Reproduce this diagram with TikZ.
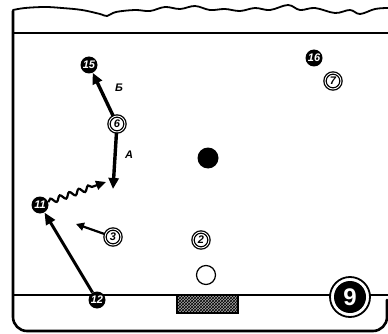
\documentclass[tikz,border=0pt]{standalone}
\usepackage{fontspec}
\setmainfont{Liberation Sans}
\usetikzlibrary{arrows.meta,decorations.pathmorphing,patterns}
\begin{document}
\begin{tikzpicture}[x=1pt,y=-1pt,
  blk/.style={circle,fill=black,inner sep=0pt,minimum size=17pt,text=white,font=\bfseries\itshape\fontsize{11}{11}\selectfont},
  wht/.style={circle,draw,double,double distance=0.9pt,line width=1.3pt,fill=white,inner sep=0pt,minimum size=16pt,font=\bfseries\itshape\fontsize{11}{11}\selectfont},
  lab/.style={font=\bfseries\itshape\fontsize{11}{11}\selectfont},
  mv/.style={line width=3.4pt,-{Triangle[length=11pt,width=10pt]}},
  frame/.style={line width=2.6pt,line cap=round,line join=round}]
\useasboundingbox (0,0) rectangle (388,334);
% frame
\draw[frame,rounded corners=14pt] (13,11) -- (13,331) -- (387,331) -- (387,300);
\draw[line width=1.8pt,line cap=round] plot[smooth,tension=0.6] coordinates {(13,10) (25,8) (45,7) (62,8) (82,10) (100,14) (107,16) (116,12) (135,10) (150,11) (165,7) (180,9) (195,6) (210,10) (225,9) (240,11) (255,8) (270,10) (288,5) (300,10) (315,8) (335,13) (350,10) (360,14) (375,9) (388,8)};
\draw[line width=1.5pt] (13,33) -- (388,33);
\draw[line width=1.5pt] (13,295) -- (388,295);
% goal
\fill[black!35] (177,295) rectangle (238,313);
\draw[line width=1.4pt,pattern=crosshatch] (177,295) rectangle (238,313);
% ball and centre
\node[circle,draw,line width=1.2pt,fill=white,minimum size=19pt,inner sep=0pt] (ball) at (206,275) {};
\node[circle,fill=black,minimum size=21pt,inner sep=0pt] (dot) at (208,158) {};
% players
\node[blk] (p15) at (89,65) {15};
\node[wht] (p6) at (117,124) {6};
\node[blk] (p11) at (40,205) {11};
\node[wht] (p3) at (113,237) {3};
\node[blk] (p12) at (97,300) {12};
\node[wht] (p2) at (201,240) {2};
\node[blk] (p16) at (314,58) {16};
\node[wht] (p7) at (333,81) {7};
\node[circle,draw,line width=1.8pt,fill=white,minimum size=40pt,inner sep=0pt] (n9o) at (350,297) {};
\node[circle,fill=black,minimum size=32pt,inner sep=0pt,text=white,font=\bfseries\fontsize{24}{24}\selectfont] (n9) at (n9o) {9};
% points
\coordinate (ptA) at (113,189);
\coordinate (ptW) at (106,182);
\coordinate (pt3) at (76,224);
% moves
\draw[mv] (p6) -- (ptA);
\draw[mv] (p6) -- (p15);
\draw[line width=3pt,-{Triangle[length=12pt,width=10pt]}] (p12) -- (p11);
\draw[line width=2.2pt,-{Triangle[length=8pt,width=8pt]}] (p3) -- (pt3);
\draw[line width=2.2pt,-{Triangle[length=10pt,width=9pt]},decorate,decoration={snake,amplitude=2.6pt,segment length=10pt,post length=10pt}] (p11) -- (ptW);
% labels
\node[lab] (lB) at (119,88) {Б};
\node[lab] (lA) at (129,155) {A};
\end{tikzpicture}
\end{document}
